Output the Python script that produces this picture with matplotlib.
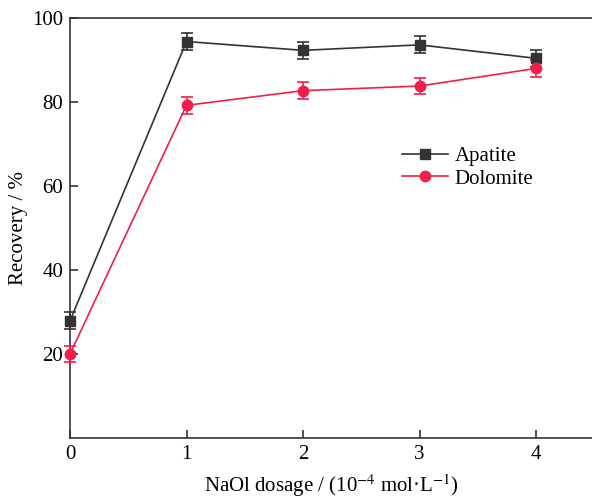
import matplotlib
matplotlib.use("Agg")
import matplotlib.pyplot as plt

dosage = [0, 1, 2, 3, 4]
apatite = [27.9, 94.4, 92.3, 93.6, 90.4]
apatite_err = [2.0, 2.0, 2.0, 2.0, 2.0]
dolomite = [20.0, 79.2, 82.7, 83.8, 88.0]
dolomite_err = [2.0, 2.0, 2.0, 2.0, 2.0]
xticks = [0, 1, 2, 3, 4]
yticks = [20, 40, 60, 80, 100]

plt.rcParams['font.family'] = ['Liberation Serif', 'DejaVu Serif']
plt.rcParams['mathtext.fontset'] = 'stix'

fig = plt.figure(figsize=(5.92, 4.99), dpi=100)
W, H = 592, 499
ax = fig.add_axes([70 / W, (H - 438) / H, 1 - 70 / W, (438 - 18) / H])

black = '#333333'
red = '#f01f4a'
ax.errorbar(dosage, apatite, yerr=apatite_err, color=black, marker='s', markersize=6.5,
            lw=1.2, capsize=4, elinewidth=1.2, capthick=1.2, label='Apatite', clip_on=False, zorder=3)
ax.errorbar(dosage, dolomite, yerr=dolomite_err, color=red, marker='o', markersize=7.5,
            lw=1.2, capsize=4, elinewidth=1.2, capthick=1.2, label='Dolomite', clip_on=False, zorder=3)

ax.set_xlim(0, (W - 70) / 116.5)
ax.set_ylim(0, 100)
ax.set_xticks(xticks)
ax.set_yticks(yticks)
ax.spines['right'].set_visible(False)
for s in ['left', 'bottom', 'top']:
    ax.spines[s].set_linewidth(1.2)
    ax.spines[s].set_color('#333333')
ax.tick_params(direction='in', length=6, width=1.2, labelsize=15, color='#333333', pad=5)

ax.set_xlabel('NaOl dosage / (10$^{-4}$ mol·L$^{-1}$)', fontsize=15, labelpad=6)
ax.set_ylabel('Recovery / %', fontsize=15, labelpad=3)

handles, labels = ax.get_legend_handles_labels()
handles = [h[0] for h in handles]
ax.legend(handles, labels, loc='upper left', bbox_to_anchor=((394 - 70) / (W - 70), (438 - 138) / 420),
          frameon=False, fontsize=15, handlelength=2.2, handletextpad=0.3, labelspacing=0.15,
          borderaxespad=0.0)

fig.savefig('out.png', dpi=100)
